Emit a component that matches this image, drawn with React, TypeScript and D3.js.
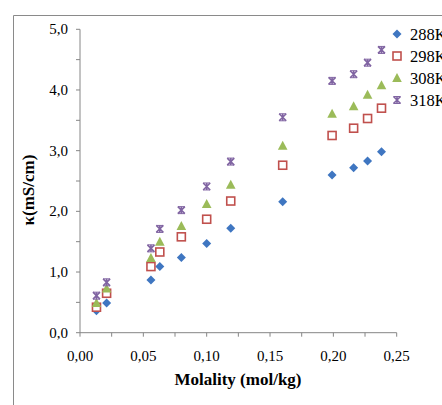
import React from "react";
import * as d3 from "d3";

const molality = [0.013, 0.021, 0.056, 0.063, 0.080, 0.100, 0.119, 0.160, 0.199, 0.216, 0.227, 0.238];
const k288 = [0.36, 0.49, 0.87, 1.09, 1.24, 1.47, 1.72, 2.16, 2.60, 2.72, 2.83, 2.98];
const k298 = [0.42, 0.65, 1.09, 1.33, 1.58, 1.87, 2.17, 2.76, 3.25, 3.37, 3.53, 3.70];
const k308 = [0.49, 0.73, 1.23, 1.50, 1.76, 2.12, 2.44, 3.08, 3.61, 3.73, 3.92, 4.08];
const k318 = [0.61, 0.83, 1.39, 1.71, 2.02, 2.41, 2.82, 3.55, 4.15, 4.26, 4.45, 4.66];
const seriesNames = ["288K", "298K", "308K", "318K"];
const xTicks = [0, 0.05, 0.1, 0.15, 0.2, 0.25];
const yTicks = [0, 1, 2, 3, 4, 5];

const colors = ["#3f76c1", "#c0504d", "#9bbb59", "#8064a2"];
const seriesValues = [k288, k298, k308, k318];

const fmt = (v: number, d: number) => v.toFixed(d).replace(".", ",");

function Marker({ kind, x, y }: { kind: number; x: number; y: number }) {
  const c = colors[kind];
  if (kind === 0) {
    const s = 4.5;
    return <path d={`M${x},${y - s}L${x + s},${y}L${x},${y + s}L${x - s},${y}Z`} fill={c} />;
  }
  if (kind === 1) {
    return <rect x={x - 4} y={y - 4} width={8} height={8} fill="white" stroke={c} strokeWidth={1.6} />;
  }
  if (kind === 2) {
    return <path d={`M${x},${y - 5}L${x + 4.8},${y + 4}L${x - 4.8},${y + 4}Z`} fill={c} />;
  }
  const s = 3.5;
  return (
    <g stroke={c} strokeWidth={1.6}>
      <path d={`M${x - s},${y - s}L${x + s},${y + s}M${x + s},${y - s}L${x - s},${y + s}M${x},${y - s}L${x},${y + s}`} />
      <path d={`M${x - s},${y - s}L${x + s},${y - s}M${x - s},${y + s}L${x + s},${y + s}`} strokeWidth={1} />
    </g>
  );
}

export default function App() {
  const x = d3.scaleLinear().domain([0, 0.25]).range([80, 396.7]);
  const y = d3.scaleLinear().domain([0, 5]).range([332.7, 29.3]);
  const axisColor = "#868686";
  const font = "Liberation Serif, Times New Roman, serif";
  const xMinor = d3.range(0, 0.2501, 0.025);
  const yMinor = d3.range(0, 5.01, 0.5);

  return (
    <svg width={442} height={405} style={{ position: "absolute", left: 0, top: 0, background: "white", fontFamily: font }}>
      <rect x={0} y={0} width={442} height={405} fill="white" />
      <path d="M13.5,405V15.5H442" fill="none" stroke="#8a8a8a" strokeWidth={1} />
      {/* axes */}
      <line x1={x(0)} x2={x(0.25)} y1={y(0)} y2={y(0)} stroke={axisColor} strokeWidth={1} />
      <line x1={x(0)} x2={x(0)} y1={y(0)} y2={y(5)} stroke={axisColor} strokeWidth={1} />
      {xMinor.map((t, i) => (
        <line key={"xt" + i} x1={x(t)} x2={x(t)} y1={y(0)} y2={y(0) + 4} stroke={axisColor} />
      ))}
      {yMinor.map((t, i) => (
        <line key={"yt" + i} x1={x(0) - 4} x2={x(0)} y1={y(t)} y2={y(t)} stroke={axisColor} />
      ))}
      {xTicks.map((t) => (
        <text key={"xl" + t} x={x(t)} y={361} textAnchor="middle" fontSize={15} fill="#000">
          {fmt(t, 2)}
        </text>
      ))}
      {yTicks.map((t) => (
        <text key={"yl" + t} x={68} y={y(t) + 5} textAnchor="end" fontSize={15} fill="#000">
          {fmt(t, 1)}
        </text>
      ))}
      <text x={238} y={385} textAnchor="middle" fontSize={17} fontWeight="bold">
        Molality (mol/kg)
      </text>
      <text transform="translate(34,190) rotate(-90)" textAnchor="middle" fontSize={17} fontWeight="bold">
        κ(mS/cm)
      </text>
      {/* data */}
      {seriesValues.map((vals, si) => (
        <g key={"s" + si}>
          {vals.map((v, i) => (
            <Marker key={i} kind={si} x={x(molality[i])} y={y(v)} />
          ))}
        </g>
      ))}
      {/* legend */}
      {seriesNames.map((n, i) => {
        const cy = 34 + i * 22;
        return (
          <g key={"lg" + i}>
            <Marker kind={i} x={397} y={cy} />
            <text x={410} y={cy + 5.5} fontSize={16.5}>
              {n}
            </text>
          </g>
        );
      })}
    </svg>
  );
}
